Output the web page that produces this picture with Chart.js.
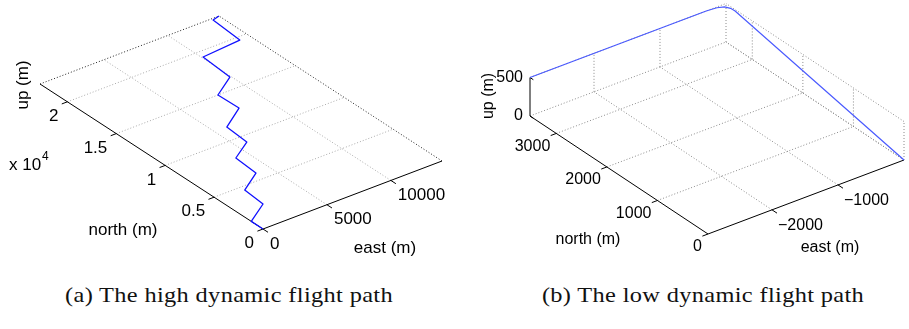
<html>
<head>
<meta charset="UTF-8">
<title>flight paths</title>
<script src="https://cdn.jsdelivr.net/npm/chart.js@4.4.1/dist/chart.umd.min.js"></script>
<style>
  body { margin:0; background:#fff; }
  #wrap { position:relative; width:909px; height:329px; }
  canvas { position:absolute; top:0; }
  .cap { position:absolute; top:283px; font-family:"Liberation Serif"; font-size:21px; letter-spacing:0.3px; white-space:nowrap; transform:translateX(-50%) scaleX(1.16); color:#111; }
</style>
</head>
<body>
<div id="wrap">
  <canvas id="chartA" width="455" height="272" style="left:0"></canvas>
  <canvas id="chartB" width="454" height="272" style="left:455px"></canvas>
  <div class="cap" style="left:229px">(a) The high dynamic flight path</div>
  <div class="cap" style="left:703px">(b) The low dynamic flight path</div>
</div>
<script>
// (a) high dynamic flight path (seen from above, up axis has no depth)
var eastA  = [0, 0, 1900, 2050, 3900, 4050, 5800, 5950, 8000, 7950, 9900, 10100, 13200, 13400, 14000];
var northA = [0, 1200, 2480, 4550, 5820, 8070, 9240, 11480, 12910, 15000, 16330, 19330, 19630, 22620, 22800];
var eastTicksA  = [0, 5000, 10000];
var northTicksA = [0, 5000, 10000, 15000, 20000];
var northLabelsA = ["0", "0.5", "1", "1.5", "2"];

// (b) low dynamic flight path
var eastB  = [-2970, -300, -150, -60, -15, 0, 0];
var northB = [3520, 3520, 3505, 3470, 3410, 3340, 0];
var upB    = [500, 500, 500, 497, 490, 480, 0];
var eastTicksB  = [-2000, -1000];
var eastGridB   = [-2000, -1000, 0];
var northTicksB = [0, 1000, 2000, 3000];
var upTicksB    = [0, 500];

var gridDash = [1, 2];
var panels = {};   // canvas id -> {P, items}

function proj(P, e, n, u) {
  var fe = (e - P.eRange[0]) / (P.eRange[1] - P.eRange[0]);
  var fn = (n - P.nRange[0]) / (P.nRange[1] - P.nRange[0]);
  var fu = (u - P.uRange[0]) / (P.uRange[1] - P.uRange[0]);
  return {
    x: P.origin[0] + fe * P.eVec[0] + fn * P.nVec[0] + fu * P.uVec[0],
    y: P.origin[1] + fe * P.eVec[1] + fn * P.nVec[1] + fu * P.uVec[1]
  };
}

function seg(P, a, b, color, width, dash, order) {
  return {
    data: [proj(P, a[0], a[1], a[2]), proj(P, b[0], b[1], b[2])],
    showLine: true, borderColor: color, borderWidth: width,
    borderDash: dash || [], pointRadius: 0, order: order, clip: false
  };
}

// short outward tick, pushed along minus the given axis vector
function tick(P, p, vec, len) {
  var q = proj(P, p[0], p[1], p[2]);
  var l = Math.sqrt(vec[0] * vec[0] + vec[1] * vec[1]);
  return {
    data: [q, {x: q.x - vec[0] / l * len, y: q.y - vec[1] / l * len}],
    showLine: true, borderColor: '#000', borderWidth: 1, pointRadius: 0, order: 1, clip: false
  };
}

var labelPlugin = {
  id: 'labels3d',
  afterDraw: function(chart) {
    var ctx = chart.ctx, xs = chart.scales.x, ys = chart.scales.y;
    var cfg = panels[chart.canvas.id];
    if (!cfg) return;
    var P = cfg.P;
    cfg.items.forEach(function(it) {
      var p = it.at ? {x: it.at[0], y: it.at[1]} : proj(P, it.p[0], it.p[1], it.p[2]);
      var x = xs.getPixelForValue(p.x) + (it.dx || 0);
      var y = ys.getPixelForValue(p.y) + (it.dy || 0);
      ctx.save();
      ctx.fillStyle = '#000';
      ctx.font = (it.size || P.font) + 'px "Liberation Sans", Arial, sans-serif';
      ctx.textAlign = it.align || 'center';
      ctx.textBaseline = 'middle';
      ctx.translate(x, y);
      if (it.rot) ctx.rotate(it.rot);
      ctx.fillText(it.text, 0, 0);
      ctx.restore();
    });
  }
};

function makeChart(id, P, datasets, items) {
  var cv = document.getElementById(id);
  panels[id] = { P: P, items: items };
  return new Chart(cv, {
    type: 'scatter',
    data: { datasets: datasets },
    options: {
      responsive: false,
      animation: false,
      layout: { padding: 0 },
      scales: {
        x: { type: 'linear', min: 0, max: cv.width, display: false },
        y: { type: 'linear', min: 0, max: cv.height, reverse: true, display: false }
      },
      plugins: {
        legend: { display: false },
        tooltip: { enabled: false }
      }
    },
    plugins: [labelPlugin]
  });
}

// ---------- panel (a)
var PA = { eRange: [0, 14000], nRange: [0, 22800], uRange: [0, 1],
  origin: [263, 229], eVec: [179, -68], nVec: [-223, -145], uVec: [0, 0], font: 17 };
var dsA = [];
dsA.push({ data: eastA.map(function(e, i) { return proj(PA, e, northA[i], 0); }),
  showLine: true, borderColor: '#1010ff', borderWidth: 1.3, pointRadius: 0, order: 0, clip: false,
  borderJoinStyle: 'round' });
dsA.push(seg(PA, [0, 0, 0], [14000, 0, 0], '#000', 1, null, 1));
dsA.push(seg(PA, [0, 0, 0], [0, 22800, 0], '#000', 1, null, 1));
northTicksA.forEach(function(n) {
  if (n > 0) dsA.push(seg(PA, [0, n, 0], [14000, n, 0], '#aaaaaa', 1, gridDash, 2));
  dsA.push(tick(PA, [0, n, 0], PA.eVec, 6));
});
eastTicksA.forEach(function(e) {
  if (e > 0) dsA.push(seg(PA, [e, 0, 0], [e, 22800, 0], '#aaaaaa', 1, gridDash, 2));
  dsA.push(tick(PA, [e, 0, 0], PA.nVec, 6));
});
dsA.push(seg(PA, [0, 22800, 0], [14000, 22800, 0], '#222', 1, gridDash, 2));
dsA.push(seg(PA, [14000, 0, 0], [14000, 22800, 0], '#222', 1, gridDash, 2));

var itemsA = [];
northTicksA.forEach(function(n, i) {
  itemsA.push({ text: northLabelsA[i], p: [0, n, 0], dx: -9, dy: 14.5, align: 'right' });
});
eastTicksA.forEach(function(e) {
  itemsA.push({ text: String(e), p: [e, 0, 0], dx: 7, dy: 15, align: 'left' });
});
itemsA.push({ text: 'x 10', at: [9, 165], align: 'left' });
itemsA.push({ text: '4', at: [42, 157], align: 'left', size: 12 });
itemsA.push({ text: 'north (m)', at: [123, 230] });
itemsA.push({ text: 'east (m)', at: [385, 248] });
itemsA.push({ text: 'up (m)', at: [23, 85], rot: -Math.PI / 2 });
makeChart('chartA', PA, dsA, itemsA);

// ---------- panel (b)
var PB = { eRange: [-2970, 0], nRange: [0, 3520], uRange: [0, 500],
  origin: [253, 234], eVec: [196, -74], nVec: [-178, -118], uVec: [0, -38.5], font: 16 };
var E0 = -2970, E1 = 0, N1 = 3520, U1 = 500;
var gB = '#8a8a8a';
var dsB = [];
dsB.push({ data: eastB.map(function(e, i) { return proj(PB, e, northB[i], upB[i]); }),
  showLine: true, borderColor: '#4a5aff', borderWidth: 1.2, pointRadius: 0, order: 0, clip: false });
dsB.push(seg(PB, [E0, 0, 0], [E1, 0, 0], '#000', 1, null, 1));
dsB.push(seg(PB, [E0, 0, 0], [E0, N1, 0], '#000', 1, null, 1));
dsB.push(seg(PB, [E0, N1, 0], [E0, N1, U1], '#000', 1, null, 1));
northTicksB.forEach(function(n) {
  if (n > 0) dsB.push(seg(PB, [E0, n, 0], [E1, n, 0], gB, 1, gridDash, 2));
  dsB.push(seg(PB, [E1, n, 0], [E1, n, U1], gB, 1, gridDash, 2));
  dsB.push(tick(PB, [E0, n, 0], PB.eVec, 6));
});
eastGridB.forEach(function(e) {
  dsB.push(seg(PB, [e, 0, 0], [e, N1, 0], gB, 1, gridDash, 2));
  dsB.push(seg(PB, [e, N1, 0], [e, N1, U1], gB, 1, gridDash, 2));
});
eastTicksB.forEach(function(e) {
  dsB.push(tick(PB, [e, 0, 0], PB.nVec, 6));
});
upTicksB.forEach(function(u) {
  dsB.push(seg(PB, [E0, N1, u], [E1, N1, u], gB, 1, gridDash, 2));
  dsB.push(seg(PB, [E1, 0, u], [E1, N1, u], gB, 1, gridDash, 2));
  dsB.push(tick(PB, [E0, N1, u], PB.nVec, 4));
});

var itemsB = [];
northTicksB.forEach(function(n) {
  itemsB.push({ text: String(n), p: [E0, n, 0], dx: -6, dy: 13, align: 'right' });
});
eastTicksB.forEach(function(e) {
  itemsB.push({ text: '\u2212' + String(-e), p: [e, 0, 0], dx: 6, dy: 15.5, align: 'left' });
});
upTicksB.forEach(function(u) {
  itemsB.push({ text: String(u), p: [E0, N1, u], dx: -7, dy: 0, align: 'right' });
});
itemsB.push({ text: 'north (m)', at: [133, 240] });
itemsB.push({ text: 'east (m)', at: [375, 248] });
itemsB.push({ text: 'up (m)', at: [34, 96], rot: -Math.PI / 2 });
makeChart('chartB', PB, dsB, itemsB);
</script>
</body>
</html>
